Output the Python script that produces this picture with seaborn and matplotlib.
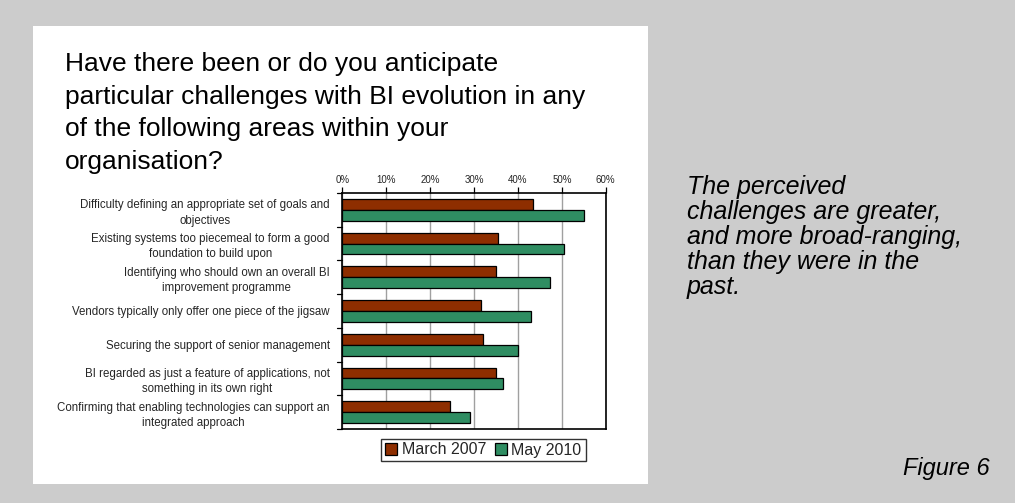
import matplotlib
matplotlib.use("Agg")
import matplotlib.pyplot as plt
from matplotlib.patches import Rectangle, Patch
import numpy as np
import pandas as pd
import seaborn as sns

# Survey responses: share of respondents anticipating each challenge
challenges = [
    "Difficulty defining an appropriate set of goals and\nobjectives",
    "Existing systems too piecemeal to form a good\nfoundation to build upon",
    "Identifying who should own an overall BI\nimprovement programme",
    "Vendors typically only offer one piece of the jigsaw",
    "Securing the support of senior management",
    "BI regarded as just a feature of applications, not\nsomething in its own right",
    "Confirming that enabling technologies can support an\nintegrated approach",
]
march_2007 = [43.5, 35.5, 35.0, 31.5, 32.0, 35.0, 24.5]
may_2010 = [55.0, 50.5, 47.3, 43.0, 40.0, 36.5, 29.0]
series_names = ["March 2007", "May 2010"]
x_ticks = [0, 10, 20, 30, 40, 50, 60]
x_tick_labels = ["0%", "10%", "20%", "30%", "40%", "50%", "60%"]

title_text = ("Have there been or do you anticipate\n"
              "particular challenges with BI evolution in any\n"
              "of the following areas within your\n"
              "organisation?")
side_text = ("The perceived\nchallenges are greater,\nand more broad-ranging,\n"
             "than they were in the\npast.")
figure_label = "Figure 6"

colors = {"March 2007": "#8E2E00", "May 2010": "#2F8D62"}

df = pd.DataFrame({
    "Challenge": challenges * 2,
    "Survey": [series_names[0]] * len(challenges) + [series_names[1]] * len(challenges),
    "Percent": march_2007 + may_2010,
})

sns.set_theme(style="white")
plt.rcParams["font.family"] = ["Liberation Sans", "DejaVu Sans"]

W, H = 1015, 503
fig = plt.figure(figsize=(W / 100, H / 100), dpi=100, facecolor="#CCCCCC")

# white card behind the chart
fig.patches.append(Rectangle((32.5 / W, 1 - 484 / H), (648 - 32.5) / W, (484 - 26) / H,
                             transform=fig.transFigure, facecolor="white",
                             edgecolor="none", zorder=-5))

x0, x1, y0, y1 = 342.3, 605.7, 193, 429
ax = fig.add_axes([x0 / W, 1 - y1 / H, (x1 - x0) / W, (y1 - y0) / H])
ax.set_facecolor("white")

sns.barplot(data=df, y="Challenge", x="Percent", hue="Survey", orient="h",
            palette=colors, edgecolor="black", linewidth=0.9, width=0.64,
            saturation=1, ax=ax, legend=False, zorder=3)

ax.set_xlim(0, 60)
ax.set_ylim(len(challenges) - 0.5, -0.5)
ax.set_xticks(x_ticks)
ax.set_xticklabels(x_tick_labels, fontsize=7)
ax.xaxis.tick_top()
ax.tick_params(axis="x", which="both", top=True, bottom=False, length=4,
               width=0.9, color="black", pad=2, direction="out")
ax.set_yticks(np.arange(len(challenges)))
ax.set_yticklabels(challenges, fontsize=8.3, linespacing=1.38,
                   multialignment="center")
ax.tick_params(axis="y", left=False, length=0, pad=9)
# separator ticks on the category axis
for yb in np.arange(-0.5, len(challenges) + 0.5, 1.0):
    ax.plot([-1.3, 0], [yb, yb], color="black", lw=0.9, clip_on=False, zorder=5)

ax.set_xlabel("")
ax.set_ylabel("")
ax.grid(axis="x", color="#A0A0A0", linewidth=1.0, zorder=0)
ax.grid(axis="y", visible=False)
for s in ax.spines.values():
    s.set_visible(True)
    s.set_color("black")
    s.set_linewidth(1.2)

# legend
handles = [Patch(facecolor=colors[n], edgecolor="black", linewidth=0.9, label=n)
           for n in series_names]
leg = fig.legend(handles=handles, loc="center",
                 bbox_to_anchor=(483.5 / W, 1 - 450 / H), ncol=2, fontsize=11.5,
                 frameon=True, fancybox=False, handlelength=0.75, handleheight=0.75,
                 handletextpad=0.3, columnspacing=0.5, borderpad=0.25,
                 borderaxespad=0)
leg.get_frame().set_edgecolor("black")
leg.get_frame().set_linewidth(1.0)

fig.text(65 / W, 1 - 52 / H, title_text, fontsize=19, va="top", ha="left",
         linespacing=1.46, color="black")
fig.text(687 / W, 1 - 175 / H, side_text, fontsize=18, style="italic",
         va="top", ha="left", linespacing=1.05, color="black")
fig.text(990 / W, 1 - 468 / H, figure_label, fontsize=17, style="italic",
         va="center", ha="right", color="black")

fig.savefig("out.png", dpi=100, facecolor=fig.get_facecolor())
